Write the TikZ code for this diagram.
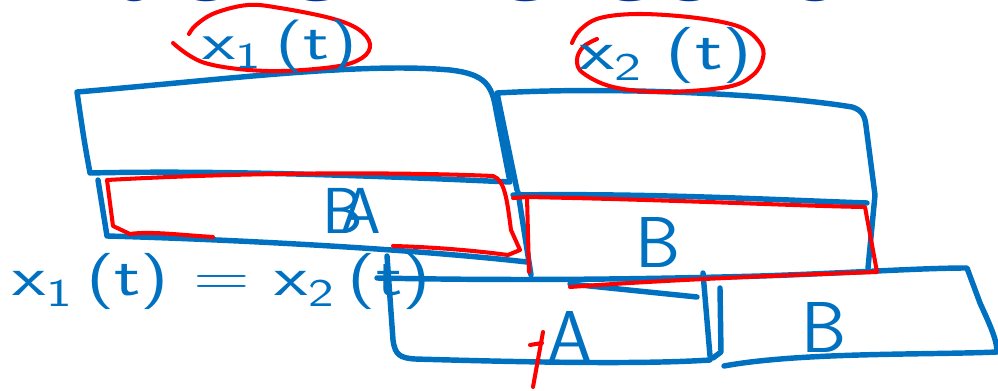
\documentclass[tikz,border=0pt]{standalone}
\usepackage{fontspec}
\usepackage{graphicx}
\usetikzlibrary{positioning, calc}
\newfontfamily\titlefont{DejaVu Sans}
\definecolor{penblue}{RGB}{0, 112, 192}
\definecolor{penred}{RGB}{255, 0, 0}
\definecolor{slideblue}{RGB}{0, 51, 153}
\newcommand{\wide}[2][1.45]{\scalebox{#1}[1]{#2}}
\newcommand{\sig}[1]{x\textsubscript{#1}\,(t)}
\tikzset{
  ink/.style={draw=penblue, line width=3.1pt, line cap=round, line join=round},
  redink/.style={draw=penred, line width=2.3pt, line cap=round, line join=round},
  mathlbl/.style={text=penblue, inner sep=0pt},
  letterlbl/.style={text=penblue, inner sep=0pt, font=\fontsize{41}{41}\selectfont\sffamily},
}

\begin{document}
\begin{tikzpicture}[x=0.02cm, y=-0.02cm]
  \useasboundingbox (0,0) rectangle (998,391);
  \clip (0,0) rectangle (998,391);
  \node[anchor=base west, inner sep=0pt, text=slideblue, font=\titlefont\bfseries\fontsize{51}{51}\selectfont] (title) at (50,1) {Packet Detection};

  % packet x1(t)
  \draw[ink] (90,173) .. controls (84,140) .. (77,92) .. controls (220,80) and (360,62) .. (450,70)
    .. controls (485,74) and (492,85) .. (496,110) -- (510,182) .. controls (380,176) and (220,170) .. (90,173);
  \draw[ink] (98,180) -- (107,236) .. controls (250,240) and (420,250) .. (527,262);
  % packet x2(t)
  \draw[ink] (517,190) -- (497,93) .. controls (620,86) and (780,95) .. (852,107)
    .. controls (862,110) and (865,116) .. (866,126) -- (875,195) -- (868,268);
  \draw[ink] (513,195) .. controls (650,193) and (780,200) .. (867,203);
  \draw[ink] (518,192) -- (531,275);
  % received A | B
  \draw[ink] (377,278) .. controls (520,281) and (650,279) .. (760,276) .. controls (850,273) and (920,268) .. (967,268)
    -- (980,303) .. controls (990,325) and (997,340) .. (997,352) .. controls (930,355) and (800,352) .. (724,366);
  \draw[ink] (570,284) -- (697,297);
  \draw[ink] (387,256) -- (393,340) .. controls (395,355) and (400,358) .. (415,359) .. controls (550,363) and (650,364) .. (710,360);
  \draw[ink] (703,273) -- (710,356);
  \draw[ink] (720,288) -- (721,352) -- (713,358);

  % red marks
  \draw[redink] (213,237) .. controls (180,235) and (150,231) .. (130,234) -- (113,226) -- (107,180)
    .. controls (250,172) and (400,172) .. (493,176) .. controls (505,180) and (507,200) .. (511,230)
    -- (520,250) -- (508,255) .. controls (470,250) and (430,247) .. (393,246);
  \draw[redink] (513,198) -- (527,197) -- (529,272);
  \draw[redink] (527,197) .. controls (680,200) and (800,206) .. (865,207) -- (877,272)
    .. controls (760,276) and (650,281) .. (570,287);
  \draw[redink] plot[smooth, tension=0.6] coordinates {(173,43) (205,63) (267,71) (333,67) (362,58) (370,44)
    (358,29) (330,18) (280,8) (248,5) (215,13) (196,25) (189,34)};
  \draw[redink] plot[smooth, tension=0.6] coordinates {(572,43) (580,30) (600,18) (640,14) (697,18) (740,27)
    (760,43) (763,58) (753,75) (727,87) (663,92) (613,87) (583,73) (577,60) (583,47) (597,39)};
  \draw[redink] (543,332) -- (533,387);
  \draw[redink] (530,345) -- (542,343);

  \node[mathlbl, font=\fontsize{30}{30}\selectfont\sffamily] (xone) at (280,46) {\wide{\sig{1}}};
  \node[mathlbl, font=\fontsize{32}{32}\selectfont\sffamily] (xtwo) at (666,55) {\wide{x\textsubscript{2}\;(t)}};
  \node[mathlbl, font=\fontsize{32}{32}\selectfont\sffamily] (eqn) at (222,281) {\wide[1.38]{\sig{1} = \sig{2}}};
  \node[letterlbl, font=\fontsize{37}{37}\selectfont\sffamily] (ba) at (352,211) {B\kern-.35em A};
  \node[letterlbl] (bmid) at (658,243) {B};
  \node[letterlbl] (alow) at (570,337) {A};
  \node[letterlbl] (blow) at (824,328) {B};
\end{tikzpicture}
\end{document}
